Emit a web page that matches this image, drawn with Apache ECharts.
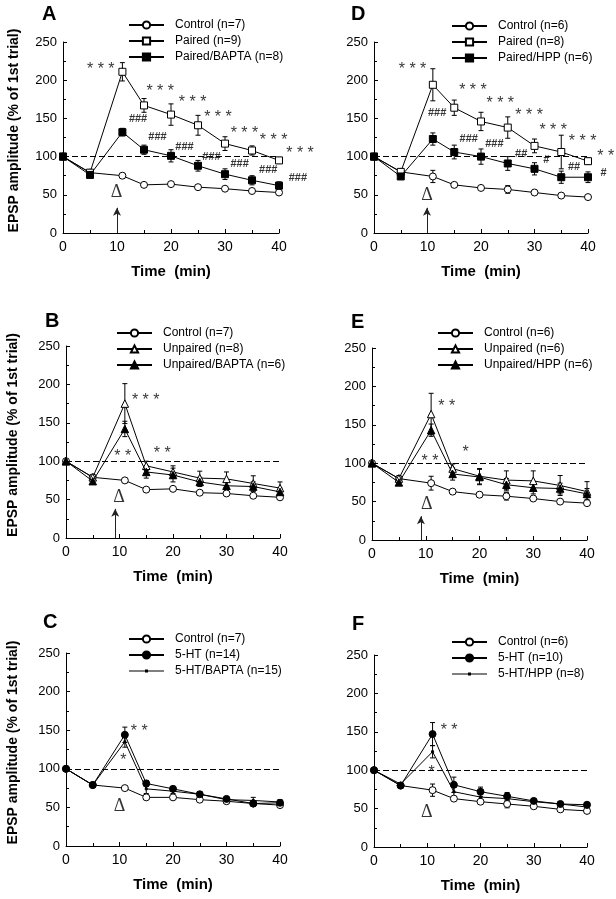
<!DOCTYPE html>
<html><head><meta charset="utf-8">
<script src="https://cdn.jsdelivr.net/npm/echarts@6/dist/echarts.min.js"></script>
<style>html,body{margin:0;padding:0;background:#fff}#c{width:616px;height:899px}</style>
</head><body><div id="c"></div>
<script>
// ---------- shared axes ----------
const timeMin = [0, 5, 11, 15, 20, 25, 30, 35, 40];
const xTickValues = [0, 10, 20, 30, 40];
const yTickValues = [0, 50, 100, 150, 200, 250];
const baselineLevel = 100;
const xAxisTitle = 'Time  (min)';
const yAxisTitle = 'EPSP amplitude (% of 1st trial)';

// ---------- Panel A ----------
const ctrlA = [100, 79, 75, 63, 64, 60, 58, 55, 53];
const ctrlAErr = [0, 2, 2, 1, 1, 1, 1, 2, 2];
const pairedA = [100, 79, 211, 167, 155, 141, 117, 108, 95];
const pairedAErr = [0, 3, 12, 9, 14, 13, 9, 6, 4];
const pairedBaptaA = [100, 76, 132, 109, 101, 88, 77, 69, 62];
const pairedBaptaAErr = [0, 3, 5, 6, 8, 7, 7, 6, 5];
const starsA = [[7, 219, '* * *'], [18, 190, '* * *'], [24, 175, '* * *'], [28.7, 155, '* * *'], [33.6, 135, '* * *'], [39, 126, '* * *'], [43.9, 109, '* * *']];
const hashA = [[13.9, 149, '###'], [17.5, 126, '###'], [22.5, 113, '###'], [27.5, 100, '###'], [32.7, 91, '###'], [38, 83, '###'], [43.5, 72, '###']];
const deltaA = [[9.9, 53, 'Δ']];
const arrowA = [10, 33];

// ---------- Panel D ----------
const ctrlD = [100, 80, 74, 63, 59, 57, 53, 49, 47];
const ctrlDErr = [0, 2, 8, 2, 2, 5, 2, 2, 2];
const pairedD = [100, 80, 194, 164, 146, 138, 114, 106, 94];
const pairedDErr = [0, 3, 21, 10, 12, 14, 9, 22, 4];
const pairedHppD = [100, 74, 123, 106, 100, 91, 84, 73, 73];
const pairedHppDErr = [0, 3, 8, 9, 10, 9, 8, 8, 7];
const starsD = [[7.2, 218, '* * *'], [18.5, 191, '* * *'], [23.6, 174, '* * *'], [29, 158, '* * *'], [33.5, 138, '* * *'], [39, 124, '* * *'], [43.3, 105, '* *']];
const hashD = [[11.8, 157, '###'], [17.7, 123, '###'], [22.5, 116, '###'], [27.5, 103, '##'], [32.2, 96, '#'], [37.4, 87, '##'], [42.9, 78, '#']];
const deltaD = [[9.9, 49, 'Δ']];
const arrowD = [9.9, 33];

// ---------- Panel B ----------
const ctrlB = [100, 79, 75, 63, 64, 59, 58, 55, 53];
const ctrlBErr = [0, 2, 2, 1, 1, 1, 2, 1, 2];
const unpairedB = [100, 79, 175, 94, 86, 78, 77, 71, 65];
const unpairedBErr = [0, 3, 26, 6, 8, 9, 9, 10, 8];
const unpairedBaptaB = [100, 74, 142, 86, 82, 73, 68, 67, 60];
const unpairedBaptaBErr = [0, 3, 10, 8, 9, 6, 6, 6, 5];
const starsB = [[14.9, 184, '* * *'], [10.6, 110, '* *'], [18, 114, '* *']];
const hashB = [];
const deltaB = [[9.9, 53, 'Δ']];
const arrowB = [9.2, 38];

// ---------- Panel E ----------
const ctrlE = [100, 80, 74, 63, 59, 57, 54, 50, 48];
const ctrlEErr = [0, 2, 9, 2, 2, 5, 2, 2, 2];
const unpairedE = [100, 80, 164, 93, 83, 78, 77, 71, 63];
const unpairedEErr = [0, 3, 27, 6, 10, 12, 13, 13, 13];
const unpairedHppE = [100, 75, 143, 86, 82, 72, 68, 67, 60];
const unpairedHppEErr = [0, 3, 8, 8, 10, 8, 8, 7, 7];
const starsE = [[13.9, 178, '* *'], [17.4, 119, '*'], [10.8, 107, '* *']];
const hashE = [];
const deltaE = [[10.2, 47, 'Δ']];
const arrowE = [9.1, 31];

// ---------- Panel C ----------
const ctrlC = [100, 79, 75, 63, 63, 60, 58, 55, 53];
const ctrlCErr = [0, 2, 2, 1, 1, 1, 1, 1, 2];
const htC = [100, 79, 144, 81, 74, 67, 61, 55, 56];
const htCErr = [0, 2, 10, 4, 3, 3, 3, 3, 3];
const htBaptaC = [100, 79, 135, 74, 71, 67, 60, 59, 57];
const htBaptaCErr = [0, 2, 7, 6, 3, 3, 3, 4, 3];
const starsC = [[13.7, 153, '* *'], [10.7, 115, '*']];
const hashC = [];
const deltaC = [[10, 52, 'Δ']];
const arrowC = null;

// ---------- Panel F ----------
const ctrlF = [100, 80, 74, 63, 59, 56, 53, 49, 47];
const ctrlFErr = [0, 2, 8, 2, 2, 5, 2, 2, 2];
const htF = [100, 80, 147, 81, 72, 66, 60, 56, 55];
const htFErr = [0, 2, 15, 10, 6, 5, 3, 3, 3];
const htHppF = [100, 82, 124, 72, 65, 63, 59, 56, 52];
const htHppFErr = [0, 2, 8, 8, 4, 4, 3, 3, 3];
const starsF = [[14.1, 156, '* *'], [10.8, 101, '*']];
const hashF = [];
const deltaF = [[9.9, 45, 'Δ']];
const arrowF = null;

// ---------- styles / layout ----------
const fam = "'Liberation Sans', Arial, Helvetica, sans-serif";
const markerStyles = {
  openCircle: { symbol: 'circle', size: 7, fill: '#fff' },
  openSquare: { symbol: 'rect', size: 7, fill: '#fff' },
  filledSquare: { symbol: 'rect', size: 7, fill: '#000' },
  openTriangle: { symbol: 'triangle', size: 7.5, fill: '#fff' },
  filledTriangle: { symbol: 'triangle', size: 7.5, fill: '#000' },
  filledCircle: { symbol: 'circle', size: 7, fill: '#000' },
  tinyMark: { symbol: 'rect', size: 2, fill: '#000' }
};
const tinyIcon = 'path://M0,0h0.01v0.01h-0.01z M0,4h35v1h-35z M16,3h3v3h-3z M34.99,8.99h0.01v0.01h-0.01z';

const panels = [
  { letter: 'A', grid: { left: 63, top: 42, width: 216, height: 191 }, legendPos: { left: 128, top: 19 }, letterPos: { left: 42, top: 4 }, yName: true, nameGap: 42,
    series: [
      { name: 'Control (n=7)', v: ctrlA, e: ctrlAErr, m: 'openCircle' },
      { name: 'Paired (n=9)', v: pairedA, e: pairedAErr, m: 'openSquare' },
      { name: 'Paired/BAPTA (n=8)', v: pairedBaptaA, e: pairedBaptaAErr, m: 'filledSquare' }],
    stars: starsA, hash: hashA, delta: deltaA, arrow: arrowA },
  { letter: 'D', grid: { left: 374, top: 42, width: 214, height: 191 }, legendPos: { left: 451, top: 20 }, letterPos: { left: 351, top: 4 }, yName: false,
    series: [
      { name: 'Control (n=6)', v: ctrlD, e: ctrlDErr, m: 'openCircle' },
      { name: 'Paired (n=8)', v: pairedD, e: pairedDErr, m: 'openSquare' },
      { name: 'Paired/HPP (n=6)', v: pairedHppD, e: pairedHppDErr, m: 'filledSquare' }],
    stars: starsD, hash: hashD, delta: deltaD, arrow: arrowD },
  { letter: 'B', grid: { left: 66, top: 346, width: 214, height: 192 }, legendPos: { left: 116, top: 327 }, letterPos: { left: 45, top: 311 }, yName: true, nameGap: 46,
    series: [
      { name: 'Control (n=7)', v: ctrlB, e: ctrlBErr, m: 'openCircle' },
      { name: 'Unpaired (n=8)', v: unpairedB, e: unpairedBErr, m: 'openTriangle' },
      { name: 'Unpaired/BAPTA (n=6)', v: unpairedBaptaB, e: unpairedBaptaBErr, m: 'filledTriangle' }],
    stars: starsB, hash: hashB, delta: deltaB, arrow: arrowB },
  { letter: 'E', grid: { left: 372, top: 348, width: 215, height: 192 }, legendPos: { left: 437, top: 327 }, letterPos: { left: 351, top: 312 }, yName: false,
    series: [
      { name: 'Control (n=6)', v: ctrlE, e: ctrlEErr, m: 'openCircle' },
      { name: 'Unpaired (n=6)', v: unpairedE, e: unpairedEErr, m: 'openTriangle' },
      { name: 'Unpaired/HPP (n=6)', v: unpairedHppE, e: unpairedHppEErr, m: 'filledTriangle' }],
    stars: starsE, hash: hashE, delta: deltaE, arrow: arrowE },
  { letter: 'C', grid: { left: 66, top: 653, width: 214, height: 193 }, legendPos: { left: 128, top: 633 }, letterPos: { left: 43, top: 612 }, yName: true, nameGap: 46,
    series: [
      { name: 'Control (n=7)', v: ctrlC, e: ctrlCErr, m: 'openCircle' },
      { name: '5-HT (n=14)', v: htC, e: htCErr, m: 'filledCircle' },
      { name: '5-HT/BAPTA (n=15)', v: htBaptaC, e: htBaptaCErr, m: 'tinyMark' }],
    stars: starsC, hash: hashC, delta: deltaC, arrow: arrowC },
  { letter: 'F', grid: { left: 374, top: 655, width: 213, height: 192 }, legendPos: { left: 451, top: 636 }, letterPos: { left: 352, top: 614 }, yName: false,
    series: [
      { name: 'Control (n=6)', v: ctrlF, e: ctrlFErr, m: 'openCircle' },
      { name: '5-HT (n=10)', v: htF, e: htFErr, m: 'filledCircle' },
      { name: '5-HT/HPP (n=8)', v: htHppF, e: htHppFErr, m: 'tinyMark' }],
    stars: starsF, hash: hashF, delta: deltaF, arrow: arrowF }
];

function errRender(params, api) {
  const x = api.value(0), y = api.value(1), e = api.value(2);
  if (!e) return null;
  const t = api.coord([x, y + e]), b = api.coord([x, y - e]);
  const w = 2.5, st = { stroke: '#000', lineWidth: 1 };
  return { type: 'group', children: [
    { type: 'line', shape: { x1: t[0], y1: t[1], x2: b[0], y2: b[1] }, style: st },
    { type: 'line', shape: { x1: t[0] - w, y1: t[1], x2: t[0] + w, y2: t[1] }, style: st },
    { type: 'line', shape: { x1: b[0] - w, y1: b[1], x2: b[0] + w, y2: b[1] }, style: st }
  ]};
}

const option = { animation: false, backgroundColor: '#fff', grid: [], xAxis: [], yAxis: [], series: [], legend: [], title: [] };

panels.forEach((p, i) => {
  option.grid.push(Object.assign({ containLabel: false }, p.grid));
  option.title.push({ text: p.letter, left: p.letterPos.left, top: p.letterPos.top, padding: 0,
    textStyle: { fontSize: 20, fontWeight: 'bold', fontFamily: fam, color: '#000' } });
  option.xAxis.push({
    type: 'value', gridIndex: i, min: xTickValues[0], max: xTickValues[xTickValues.length - 1],
    interval: xTickValues[1] - xTickValues[0],
    name: xAxisTitle, nameLocation: 'middle', nameGap: 31,
    nameTextStyle: { fontSize: 15, fontWeight: 'bold', fontFamily: fam, color: '#000' },
    splitLine: { show: false },
    axisLine: { lineStyle: { color: '#000', width: 1 } },
    axisTick: { inside: true, length: 4, lineStyle: { color: '#000' } },
    minorTick: { show: true, splitNumber: 2, length: 3, lineStyle: { color: '#000' } },
    axisLabel: { color: '#000', fontSize: 14, fontFamily: fam, margin: 7 }
  });
  option.yAxis.push({
    type: 'value', gridIndex: i, min: yTickValues[0], max: yTickValues[yTickValues.length - 1],
    interval: yTickValues[1] - yTickValues[0],
    name: p.yName ? yAxisTitle : '', nameLocation: 'middle', nameGap: p.nameGap || 40,
    nameTextStyle: { fontSize: 14, fontWeight: 'bold', fontFamily: fam, color: '#000', padding: [0, 0, 0, 14] },
    splitLine: { show: false },
    axisLine: { show: true, lineStyle: { color: '#000', width: 1 } },
    axisTick: { show: true, inside: true, length: 4, lineStyle: { color: '#000' } },
    minorTick: { show: true, splitNumber: 2, length: 3, lineStyle: { color: '#000' } },
    axisLabel: { color: '#000', fontSize: 13, fontFamily: fam, margin: 6 }
  });
  const legendData = [];
  p.series.forEach((s, k) => {
    const ms = markerStyles[s.m];
    option.series.push({
      type: 'custom', xAxisIndex: i, yAxisIndex: i, z: 2, silent: true, clip: false,
      renderItem: errRender, encode: { x: 0, y: 1 },
      data: timeMin.map((t, j) => [t, s.v[j], s.e[j]])
    });
    const ser = {
      type: 'line', name: s.name, xAxisIndex: i, yAxisIndex: i, z: 3 + k,
      data: timeMin.map((t, j) => [t, s.v[j]]),
      symbol: ms.symbol, symbolSize: ms.size, showSymbol: true,
      itemStyle: { color: ms.fill, borderColor: '#000', borderWidth: 1 },
      lineStyle: { color: '#000', width: 1 },
      emphasis: { disabled: true }
    };
    if (k === 0) {
      ser.markLine = { silent: true, symbol: ['none', 'none'], label: { show: false },
        lineStyle: { color: '#000', width: 1, type: [6, 3] },
        data: [{ yAxis: baselineLevel }] };
    }
    if (k === 1 && p.arrow) {
      ser.markLine = { silent: true, symbol: ['none', 'arrow'], symbolSize: [6, 8], label: { show: false },
        lineStyle: { color: '#222', width: 1, type: 'solid' },
        data: [[{ coord: [p.arrow[0], 0] }, { coord: [p.arrow[0], p.arrow[1]] }]] };
    }
    option.series.push(ser);
    legendData.push(s.m === 'tinyMark'
      ? { name: s.name, icon: tinyIcon, itemStyle: { color: '#000', borderWidth: 0 } }
      : { name: s.name });
  });
  option.legend.push({
    orient: 'vertical', left: p.legendPos.left, top: p.legendPos.top, padding: 0,
    itemWidth: 35, itemHeight: 9, itemGap: 4, selectedMode: false,
    textStyle: { fontSize: 12, fontFamily: fam, color: '#000', lineHeight: 12, padding: [0, 0, 0, 6] },
    data: legendData
  });
  const annot = (arr, font, size, offsetY, weight) => ({
    type: 'scatter', xAxisIndex: i, yAxisIndex: i, z: 6, silent: true, clip: false,
    symbolSize: 0, data: arr,
    label: { show: true, position: 'inside', formatter: (q) => q.value[2], color: '#000',
      textBorderWidth: 0, fontFamily: font, fontSize: size, fontWeight: weight || 'normal', offset: [0, offsetY] }
  });
  if (p.stars.length) option.series.push(annot(p.stars, fam, 16, 3.5));
  if (p.hash.length) option.series.push(annot(p.hash, fam, 11, 0, 'bold'));
  option.series.push(annot(p.delta, "'Liberation Serif', 'Times New Roman', serif", 18, 0));
});

const chart = echarts.init(document.getElementById('c'), null, { renderer: 'canvas' });
chart.setOption(option);
</script></body></html>
